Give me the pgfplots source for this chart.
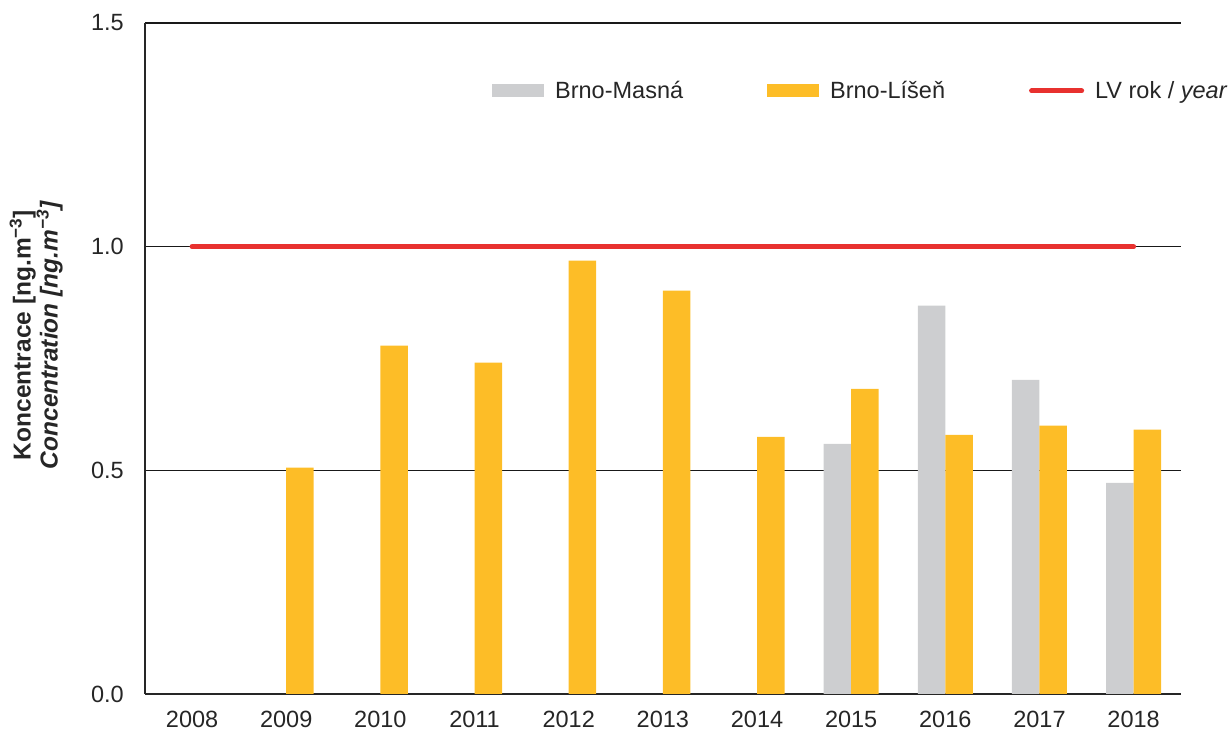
\documentclass[border=0pt]{standalone}
\usepackage{fontspec}
\setmainfont{Liberation Sans}
\usepackage{pgfplots}
\pgfplotsset{compat=1.18}
\definecolor{mgrey}{RGB}{205,206,208}
\definecolor{morange}{RGB}{253,189,39}
\definecolor{mred}{RGB}{232,49,47}
\begin{document}
\begin{tikzpicture}[x=1pt,y=1pt]
\useasboundingbox (0,0) rectangle (1229,731);
\begin{axis}[
  at={(145pt,37pt)}, anchor=south west,
  width=1035.7pt, height=671pt, scale only axis,
  xmin=-0.5, xmax=10.5, ymin=0, ymax=1.5,
  xtick={0,1,2,3,4,5,6,7,8,9,10},
  xticklabels={2008,2009,2010,2011,2012,2013,2014,2015,2016,2017,2018},
  ytick={0,0.5,1,1.5},
  yticklabels={0.0,0.5,1.0,1.5},
  major tick length=0pt,
  axis lines*=left,
  axis line style={-, line width=2pt, color=black!85},
  ymajorgrids, grid style={black!90, line width=1.4pt},
  ticklabel style={font=\fontsize{23.5}{27}\selectfont, text=black!85},
  xticklabel style={anchor=north, inner sep=0pt, yshift=-16.5pt},
  yticklabel style={anchor=east, inner sep=0pt, xshift=-21pt},
  ylabel={\textbf{Koncentrace [ng.m\textsuperscript{−3}]}\\\textbf{\textit{Concentration [ng.m\textsuperscript{−3}]}}},
  ylabel style={at={(axis description cs:-0.105,0.535)}, anchor=center, align=center, font=\fontsize{24.5}{27}\selectfont, inner sep=0pt, text=black!85},
  legend columns=3,
  legend style={at={(axis description cs:0.335,0.8987)}, anchor=west, draw=none, fill=none, inner sep=0pt,
    font=\fontsize{23.5}{27}\selectfont, text=black!85, nodes={inner sep=0pt},
    /tikz/every odd column/.style={column sep=11pt},
    /tikz/every even column/.style={column sep=84pt}},
]
\addplot[ybar, bar width=0.292, bar shift=-0.146, fill=mgrey, draw=none,
  legend image code/.code={\fill[mgrey] (0pt,-6.5pt) rectangle (52pt,6.5pt);}]
  coordinates {(7,0.559) (8,0.868) (9,0.702) (10,0.472)};
\addlegendentry{Brno-Masná}
\addplot[ybar, bar width=0.292, bar shift=0.146, fill=morange, draw=none,
  legend image code/.code={\fill[morange] (0pt,-6.5pt) rectangle (52pt,6.5pt);}]
  coordinates {(1,0.506) (2,0.779) (3,0.741) (4,0.969) (5,0.902) (6,0.575) (7,0.682) (8,0.579) (9,0.600) (10,0.591)};
\addlegendentry{Brno-Líšeň}
\addplot[mred, line width=5pt, line cap=round,
  legend image code/.code={\draw[mred, line width=5pt, line cap=round] (2.5pt,0pt) -- (52.5pt,0pt);}]
  coordinates {(0,1) (10,1)};
\addlegendentry{LV rok / \textit{year}}
\end{axis}
\end{tikzpicture}
\end{document}
